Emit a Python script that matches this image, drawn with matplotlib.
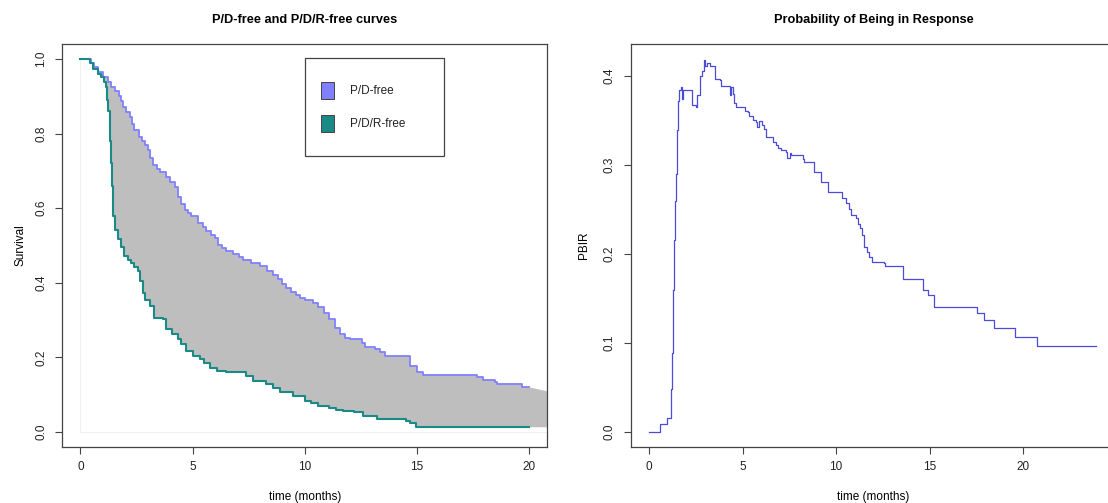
import numpy as np
import matplotlib
matplotlib.use('Agg')
import matplotlib.pyplot as plt
from matplotlib.patches import Rectangle

plt.rcParams['font.family'] = ['Liberation Sans', 'DejaVu Sans']

# progression/death-free survival (step curve, value holds from each time on)
pdf_t = [0.0, 0.45, 0.62, 0.77, 1.0, 1.22, 1.38, 1.52, 1.74, 1.82,
         1.89, 2.05, 2.19, 2.3, 2.41, 2.63, 2.75, 2.86, 3.0, 3.12,
         3.23, 3.4, 3.53, 3.83, 4.0, 4.2, 4.34, 4.5, 4.64, 4.8,
         4.94, 5.24, 5.45, 5.61, 5.8, 5.98, 6.13, 6.3, 6.5, 6.8,
         7.05, 7.25, 7.6, 7.99, 8.3, 8.58, 8.8, 9.0, 9.18, 9.4,
         9.6, 9.78, 10.0, 10.37, 10.6, 10.85, 11.1, 11.35, 11.56, 11.79,
         12.0, 12.53, 12.68, 13.12, 13.35, 13.57, 14.69, 15.0, 15.28, 17.66,
         17.96, 18.48, 18.56, 19.67, 20.0]
pdf_s = [1.0, 0.99, 0.978, 0.965, 0.951, 0.938, 0.925, 0.915, 0.902, 0.888,
         0.871, 0.858, 0.844, 0.826, 0.809, 0.791, 0.78, 0.769, 0.755, 0.735,
         0.715, 0.706, 0.698, 0.684, 0.67, 0.658, 0.631, 0.612, 0.595, 0.586,
         0.578, 0.56, 0.549, 0.538, 0.529, 0.52, 0.502, 0.493, 0.484, 0.476,
         0.468, 0.462, 0.453, 0.444, 0.433, 0.422, 0.41, 0.398, 0.387, 0.376,
         0.368, 0.36, 0.353, 0.347, 0.335, 0.318, 0.302, 0.28, 0.262, 0.253,
         0.249, 0.24, 0.227, 0.224, 0.214, 0.204, 0.178, 0.16, 0.153, 0.147,
         0.139, 0.133, 0.129, 0.12, 0.12]

# progression/death/response-free survival
pdrf_t = [0.0, 0.43, 0.55, 0.77, 0.92, 1.07, 1.15, 1.2, 1.25, 1.3,
          1.34, 1.37, 1.4, 1.43, 1.47, 1.52, 1.56, 1.67, 1.8, 1.96,
          2.1, 2.26, 2.4, 2.56, 2.65, 2.78, 2.9, 3.08, 3.3, 3.67,
          3.83, 4.1, 4.34, 4.5, 4.72, 5.0, 5.31, 5.5, 5.76, 6.1,
          6.5, 7.4, 7.69, 8.29, 8.6, 8.88, 9.48, 10.0, 10.3, 10.6,
          11.1, 11.41, 11.7, 12.2, 12.6, 13.2, 14.53, 14.69, 14.98, 20.0]
pdrf_s = [1.0, 0.99, 0.973, 0.96, 0.951, 0.938, 0.924, 0.89, 0.86, 0.82,
          0.78, 0.72, 0.66, 0.62, 0.578, 0.556, 0.542, 0.517, 0.495, 0.471,
          0.462, 0.453, 0.442, 0.431, 0.405, 0.373, 0.355, 0.338, 0.307, 0.302,
          0.275, 0.262, 0.249, 0.235, 0.218, 0.205, 0.195, 0.185, 0.173, 0.165,
          0.16, 0.151, 0.138, 0.129, 0.118, 0.107, 0.098, 0.084, 0.077, 0.071,
          0.064, 0.058, 0.056, 0.053, 0.044, 0.036, 0.031, 0.025, 0.013, 0.013]

# where the shaded band runs out past the last event
band_end_t = 23.0
band_end_top = 0.08

# probability of being in response
pbir_t = [0.0, 0.59, 0.94, 1.17, 1.21, 1.26, 1.3, 1.35, 1.38, 1.44,
          1.51, 1.56, 1.63, 1.69, 1.75, 1.8, 2.32, 2.54, 2.59, 2.71,
          2.84, 2.94, 3.02, 3.12, 3.25, 3.51, 3.78, 3.87, 4.31, 4.4,
          4.5, 4.57, 4.67, 5.11, 5.3, 5.37, 5.55, 5.73, 5.8, 5.9,
          6.02, 6.17, 6.26, 6.62, 6.79, 6.88, 7.05, 7.33, 7.38, 7.52,
          7.59, 8.21, 8.3, 8.8, 9.19, 9.57, 10.34, 10.52, 10.7, 10.82,
          11.05, 11.17, 11.28, 11.4, 11.49, 11.63, 11.76, 11.94, 12.55, 12.64,
          13.56, 14.63, 14.9, 15.21, 17.55, 17.91, 18.44, 19.56, 20.74, 23.9]
pbir_p = [0.0, 0.009, 0.016, 0.048, 0.089, 0.12, 0.16, 0.216, 0.26, 0.29,
          0.339, 0.372, 0.384, 0.387, 0.374, 0.384, 0.367, 0.365, 0.378, 0.40,
          0.406, 0.418, 0.411, 0.414, 0.411, 0.396, 0.395, 0.389, 0.378, 0.387,
          0.38, 0.37, 0.365, 0.361, 0.359, 0.355, 0.351, 0.348, 0.343, 0.349,
          0.345, 0.34, 0.331, 0.326, 0.322, 0.319, 0.317, 0.314, 0.308, 0.313,
          0.311, 0.307, 0.303, 0.292, 0.281, 0.27, 0.263, 0.257, 0.251, 0.244,
          0.24, 0.234, 0.229, 0.221, 0.208, 0.202, 0.197, 0.191, 0.19, 0.186,
          0.172, 0.16, 0.154, 0.141, 0.134, 0.126, 0.117, 0.107, 0.097, 0.097]

x_ticks = [0, 5, 10, 15, 20]
surv_ticks = [0.0, 0.2, 0.4, 0.6, 0.8, 1.0]
pbir_ticks = [0.0, 0.1, 0.2, 0.3, 0.4]

col_pd = '#8080ff'
col_pdr = '#1a8a86'
col_band = '#bebebe'
col_pbir = '#4b4bd8'
col_box = '#444444'


def step_xy(t, s):
    """vertices of a right-continuous step function"""
    xs, ys = [t[0]], [s[0]]
    for i in range(1, len(t)):
        xs += [t[i], t[i]]
        ys += [s[i - 1], s[i]]
    return np.array(xs), np.array(ys)


def r_style(ax, xticks, yticks, ylabel, title, ylabelpad):
    for sp in ax.spines.values():
        sp.set_color(col_box)
        sp.set_linewidth(0.9)
    ax.set_xticks(xticks)
    ax.set_xticklabels([str(v) for v in xticks])
    ax.set_yticks(yticks)
    ax.set_yticklabels(['%.1f' % v for v in yticks], rotation=90, va='center')
    ax.tick_params(direction='out', length=5, width=0.8, color=col_box,
                   labelsize=8.5, labelcolor='#222222', pad=5)
    ax.tick_params(axis='y', pad=6)
    ax.set_xlabel('time (months)', fontsize=8.5, labelpad=13)
    ax.set_ylabel(ylabel, fontsize=8.5, labelpad=ylabelpad)
    ax.set_title(title, fontsize=9.2, fontweight='bold', pad=15)


fig = plt.figure(figsize=(11.08, 5.03), dpi=100)
ax1 = fig.add_axes([0.0564, 0.1113, 0.4373, 0.8012])
ax2 = fig.add_axes([0.5695, 0.1113, 0.4377, 0.8012])

# left: shaded gap between the two survival curves
ux, uy = step_xy(pdf_t, pdf_s)
lx, ly = step_xy(pdrf_t, pdrf_s)
band_x = np.concatenate([ux, [band_end_t, band_end_t], lx[::-1]])
band_y = np.concatenate([uy, [band_end_top, pdrf_s[-1]], ly[::-1]])
ax1.fill(band_x, band_y, color=col_band, lw=0)
ax1.plot([0, band_end_t], [0, 0], color='#f0f0f0', lw=0.8)
ax1.plot([0, 0], [0, 1], color='#f0f0f0', lw=0.8)
ax1.step(pdf_t, pdf_s, where='post', color=col_pd, lw=1.3)
ax1.step(pdrf_t, pdrf_s, where='post', color=col_pdr, lw=1.5)
ax1.set_xlim(-0.8, 20.8)
ax1.set_ylim(-0.04, 1.04)
r_style(ax1, x_ticks, surv_ticks, 'Survival', 'P/D-free and P/D/R-free curves', 6)

# legend drawn as an R-style box
tr = ax1.transAxes
ax1.add_patch(Rectangle((0.5005, 0.7221), 0.2869, 0.2432, transform=tr,
                        fill=False, ec=col_box, lw=0.9))
for yb, col, lab in [(0.8635, col_pd, 'P/D-free'), (0.7816, col_pdr, 'P/D/R-free')]:
    ax1.add_patch(Rectangle((0.5335, yb), 0.0268, 0.0422, transform=tr,
                            fc=col, ec=col_box, lw=0.7))
    ax1.text(0.5934, yb + 0.0211, lab, transform=tr, va='center', ha='left',
             fontsize=8.5, color='#222222')

# right: probability of being in response
ax2.step(pbir_t, pbir_p, where='post', color=col_pbir, lw=0.9)
ax2.set_xlim(-0.96, 24.96)
ax2.set_ylim(-0.0168, 0.4358)
r_style(ax2, x_ticks, pbir_ticks, 'PBIR', 'Probability of Being in Response', 10)

fig.savefig('out.png', dpi=100)
